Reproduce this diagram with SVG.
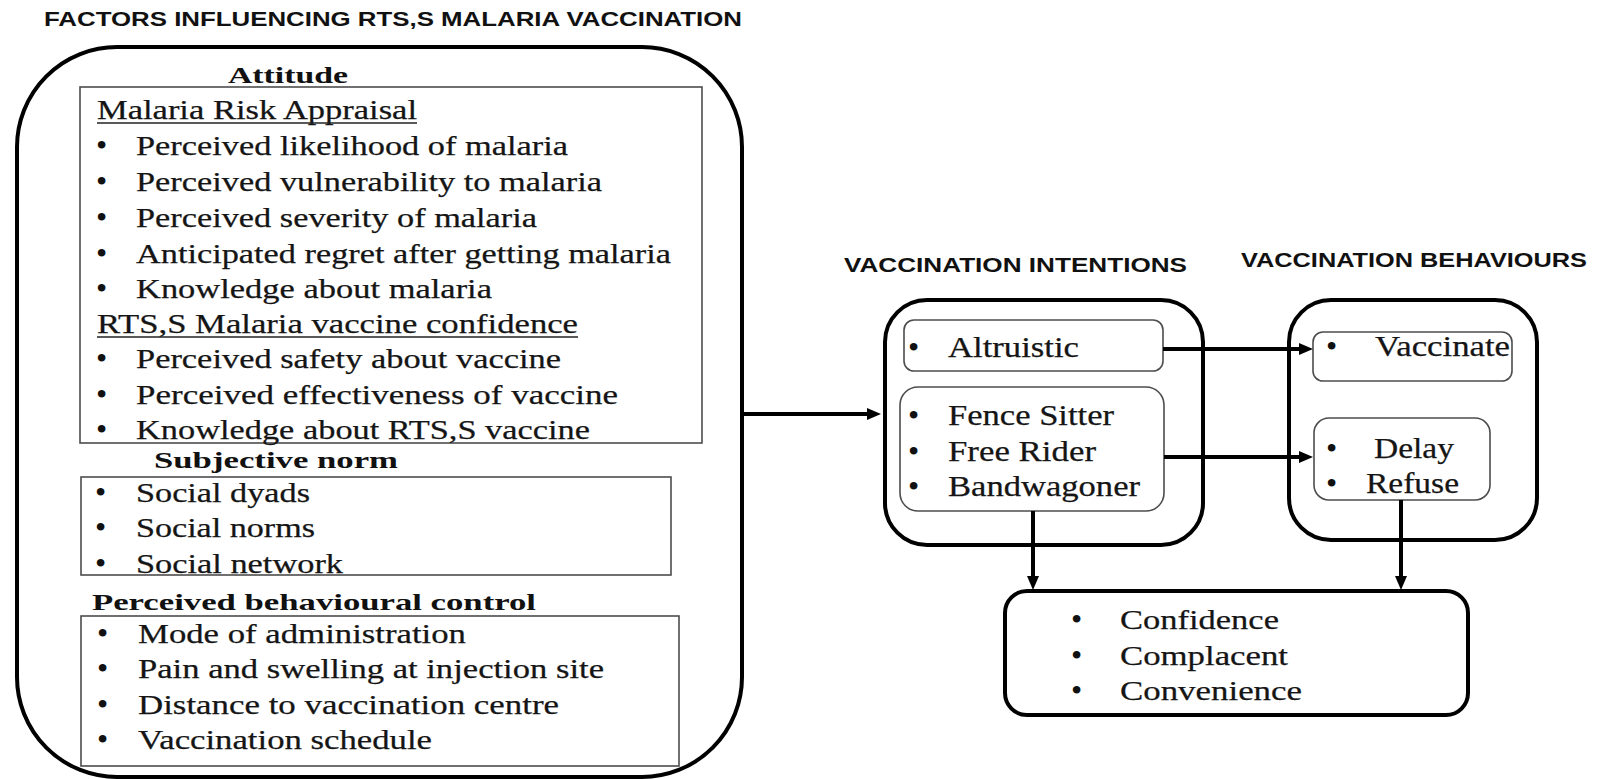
<svg xmlns="http://www.w3.org/2000/svg" width="1600" height="779" viewBox="0 0 1600 779">
<style>
  .bg { fill: #ffffff; }
  .outer { fill: none; stroke: #000; stroke-width: 4; }
  .inner { fill: none; stroke: #4d4d4d; stroke-width: 1.6; }
  .t { font-family: "Liberation Serif", "Times New Roman", serif; font-size: 27.5px; fill: #151515; stroke: #151515; stroke-width: 0.25; }
  .tr { font-family: "Liberation Serif", "Times New Roman", serif; font-size: 29px; fill: #151515; stroke: #151515; stroke-width: 0.25; }
  .b { font-family: "Liberation Serif", "Times New Roman", serif; font-size: 32px; fill: #111; }
  .hb { font-family: "Liberation Serif", "Times New Roman", serif; font-size: 24px; font-weight: bold; fill: #111; }
  .s { font-family: "Liberation Sans", Arial, sans-serif; font-size: 19.5px; font-weight: bold; fill: #111; }
  .ul { stroke: #222; stroke-width: 1.5; }
  .conn { fill: none; stroke: #000; stroke-width: 4; }
</style>
<defs>
  <marker id="arrow" viewBox="0 0 14 12" refX="4" refY="6" markerWidth="14" markerHeight="12" markerUnits="userSpaceOnUse" orient="auto">
    <path d="M0,0 L14,6 L0,12 z" fill="#000"/>
  </marker>
</defs>
<rect class="bg" x="0" y="0" width="1600" height="779"/>

<g id="title">
  <text class="s" x="44" y="26" textLength="698" lengthAdjust="spacingAndGlyphs">FACTORS INFLUENCING  RTS,S MALARIA VACCINATION</text>
</g>

<g id="factors">
  <rect class="outer" x="17" y="47" width="725" height="730" rx="100" ry="100"/>
</g>

<g id="attitude">
  <text class="hb" x="228" y="83" textLength="120" lengthAdjust="spacingAndGlyphs">Attitude</text>
  <rect class="inner" x="80" y="87" width="622" height="356"/>
  <text class="t" x="97" y="119" textLength="320" lengthAdjust="spacingAndGlyphs">Malaria Risk Appraisal</text>
  <line class="ul" x1="97" y1="123" x2="417" y2="123"/>
  <text class="b" x="96" y="156">•</text>
  <text class="t" x="136" y="155" textLength="432" lengthAdjust="spacingAndGlyphs">Perceived likelihood of malaria</text>
  <text class="b" x="96" y="192">•</text>
  <text class="t" x="136" y="191" textLength="466" lengthAdjust="spacingAndGlyphs">Perceived vulnerability to malaria</text>
  <text class="b" x="96" y="228">•</text>
  <text class="t" x="136" y="227" textLength="401" lengthAdjust="spacingAndGlyphs">Perceived severity of malaria</text>
  <text class="b" x="96" y="264">•</text>
  <text class="t" x="136" y="263" textLength="535" lengthAdjust="spacingAndGlyphs">Anticipated regret after getting malaria</text>
  <text class="b" x="96" y="299">•</text>
  <text class="t" x="136" y="298" textLength="356" lengthAdjust="spacingAndGlyphs">Knowledge about malaria</text>
  <text class="t" x="97" y="333" textLength="481" lengthAdjust="spacingAndGlyphs">RTS,S Malaria vaccine confidence</text>
  <line class="ul" x1="97" y1="337" x2="578" y2="337"/>
  <text class="b" x="96" y="369">•</text>
  <text class="t" x="136" y="368" textLength="425" lengthAdjust="spacingAndGlyphs">Perceived safety about vaccine</text>
  <text class="b" x="96" y="405">•</text>
  <text class="t" x="136" y="404" textLength="482" lengthAdjust="spacingAndGlyphs">Perceived effectiveness of  vaccine</text>
  <text class="b" x="96" y="440">•</text>
  <text class="t" x="136" y="439" textLength="454" lengthAdjust="spacingAndGlyphs">Knowledge about RTS,S vaccine</text>
</g>

<g id="subjective-norm">
  <text class="hb" x="154" y="468" textLength="244" lengthAdjust="spacingAndGlyphs">Subjective norm</text>
  <rect class="inner" x="81" y="477" width="590" height="98"/>
  <text class="b" x="95" y="503">•</text>
  <text class="t" x="136" y="502" textLength="174" lengthAdjust="spacingAndGlyphs">Social dyads</text>
  <text class="b" x="95" y="538">•</text>
  <text class="t" x="136" y="537" textLength="179" lengthAdjust="spacingAndGlyphs">Social norms</text>
  <text class="b" x="95" y="574">•</text>
  <text class="t" x="136" y="573" textLength="207" lengthAdjust="spacingAndGlyphs">Social network</text>
</g>

<g id="behavioural-control">
  <text class="hb" x="92" y="610" textLength="444" lengthAdjust="spacingAndGlyphs">Perceived behavioural control</text>
  <rect class="inner" x="81" y="616" width="598" height="150"/>
  <text class="b" x="97" y="644">•</text>
  <text class="t" x="138" y="643" textLength="328" lengthAdjust="spacingAndGlyphs">Mode of administration</text>
  <text class="b" x="97" y="679">•</text>
  <text class="t" x="138" y="678" textLength="466" lengthAdjust="spacingAndGlyphs">Pain and swelling at injection site</text>
  <text class="b" x="97" y="715">•</text>
  <text class="t" x="138" y="714" textLength="421" lengthAdjust="spacingAndGlyphs">Distance to vaccination centre</text>
  <text class="b" x="97" y="750">•</text>
  <text class="t" x="138" y="749" textLength="294" lengthAdjust="spacingAndGlyphs">Vaccination schedule</text>
</g>

<g id="intentions">
  <text class="s" x="844" y="272" style="font-size:20.5px" textLength="343" lengthAdjust="spacingAndGlyphs">VACCINATION INTENTIONS</text>
  <rect class="outer" x="885" y="300" width="318" height="245" rx="42" ry="42"/>
  <g id="altruistic">
    <rect class="inner" x="904" y="320" width="259" height="51" rx="10" ry="10"/>
    <text class="b" x="908" y="358">•</text>
    <text class="tr" x="948" y="357" textLength="131" lengthAdjust="spacingAndGlyphs">Altruistic</text>
  </g>
  <g id="hesitant">
    <rect class="inner" x="900" y="387" width="264" height="124" rx="18" ry="18"/>
    <text class="b" x="908" y="426">•</text>
    <text class="tr" x="948" y="425" textLength="166" lengthAdjust="spacingAndGlyphs">Fence Sitter</text>
    <text class="b" x="908" y="462">•</text>
    <text class="tr" x="948" y="461" textLength="148" lengthAdjust="spacingAndGlyphs">Free Rider</text>
    <text class="b" x="908" y="497">•</text>
    <text class="tr" x="948" y="496" textLength="192" lengthAdjust="spacingAndGlyphs">Bandwagoner</text>
  </g>
</g>

<g id="behaviours">
  <text class="s" x="1241" y="267" style="font-size:20.5px" textLength="346" lengthAdjust="spacingAndGlyphs">VACCINATION BEHAVIOURS</text>
  <rect class="outer" x="1289" y="300" width="248" height="240" rx="42" ry="42"/>
  <g id="vaccinate">
    <rect class="inner" x="1313" y="332" width="199" height="49" rx="10" ry="10"/>
    <text class="b" x="1326" y="357">•</text>
    <text class="tr" x="1375" y="356" textLength="135" lengthAdjust="spacingAndGlyphs">Vaccinate</text>
  </g>
  <g id="delay-refuse">
    <rect class="inner" x="1314" y="418" width="176" height="82" rx="15" ry="15"/>
    <text class="b" x="1326" y="459">•</text>
    <text class="tr" x="1374" y="458" textLength="80" lengthAdjust="spacingAndGlyphs">Delay</text>
    <text class="b" x="1326" y="494">•</text>
    <text class="tr" x="1366" y="493" textLength="93" lengthAdjust="spacingAndGlyphs">Refuse</text>
  </g>
</g>

<g id="determinants">
  <rect class="outer" x="1005" y="591" width="463" height="124" rx="22" ry="22"/>
  <text class="b" x="1071" y="630">•</text>
  <text class="t" x="1120" y="629" textLength="159" lengthAdjust="spacingAndGlyphs">Confidence</text>
  <text class="b" x="1071" y="666">•</text>
  <text class="t" x="1120" y="665" textLength="168" lengthAdjust="spacingAndGlyphs">Complacent</text>
  <text class="b" x="1071" y="701">•</text>
  <text class="t" x="1120" y="700" textLength="182" lengthAdjust="spacingAndGlyphs">Convenience</text>
</g>

<g id="connectors">
  <line class="conn" x1="742" y1="414" x2="871" y2="414" marker-end="url(#arrow)"/>
  <line class="conn" x1="1163" y1="349" x2="1303" y2="349" marker-end="url(#arrow)"/>
  <line class="conn" x1="1164" y1="457" x2="1303" y2="457" marker-end="url(#arrow)"/>
  <line class="conn" x1="1033" y1="511" x2="1033" y2="580" marker-end="url(#arrow)"/>
  <line class="conn" x1="1401" y1="500" x2="1401" y2="580" marker-end="url(#arrow)"/>
</g>
</svg>
